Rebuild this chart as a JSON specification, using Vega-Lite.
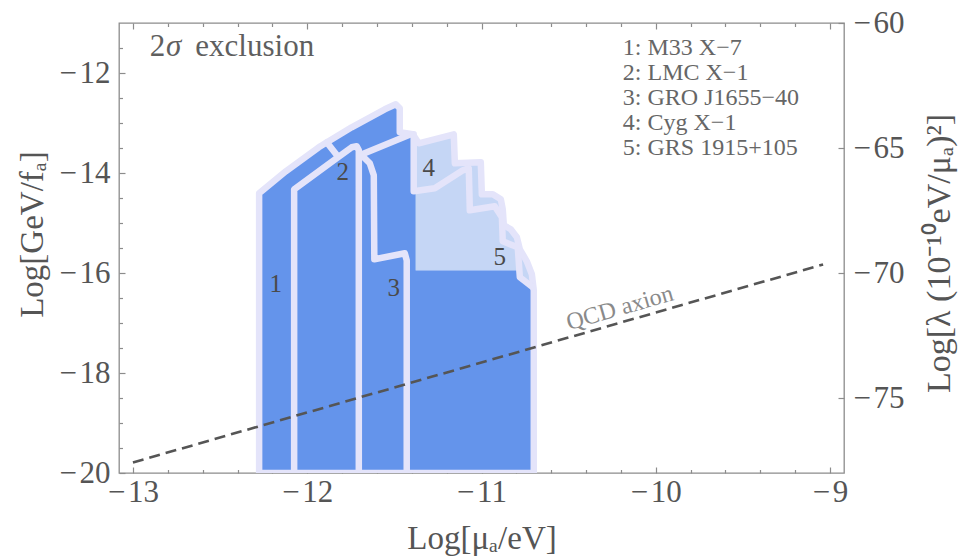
{
  "$schema": "https://vega.github.io/schema/vega-lite/v6.json",
  "width": 725,
  "height": 450,
  "autosize": {"type": "none"},
  "padding": {"left": 119, "top": 23, "right": 114, "bottom": 87},
  "background": "white",
  "config": {
    "view": {"stroke": "#8c8c8c", "strokeWidth": 1.3},
    "axis": {"domain": false, "grid": false, "labelFont": "Liberation Serif", "titleFont": "Liberation Serif", "labelColor": "#555555", "titleColor": "#555555", "titleFontWeight": "normal", "tickColor": "#8c8c8c", "tickWidth": 1.2, "labelFlush": false, "labelOverlap": false},
    "text": {"font": "Liberation Serif"}
  },
  "datasets": {
    "shapes": [
      {"s": "outer", "o": 0, "x": -12.276, "y": -20},
      {"s": "outer", "o": 1, "x": -12.276, "y": -14.406},
      {"s": "outer", "o": 2, "x": -12.123, "y": -13.966},
      {"s": "outer", "o": 3, "x": -11.934, "y": -13.486},
      {"s": "outer", "o": 4, "x": -11.745, "y": -13.086},
      {"s": "outer", "o": 5, "x": -11.555, "y": -12.726},
      {"s": "outer", "o": 6, "x": -11.492, "y": -12.626},
      {"s": "outer", "o": 7, "x": -11.469, "y": -12.706},
      {"s": "outer", "o": 8, "x": -11.469, "y": -13.186},
      {"s": "outer", "o": 9, "x": -11.394, "y": -13.226},
      {"s": "outer", "o": 10, "x": -11.360, "y": -13.406},
      {"s": "outer", "o": 11, "x": -11.159, "y": -13.226},
      {"s": "outer", "o": 12, "x": -11.153, "y": -13.806},
      {"s": "outer", "o": 13, "x": -11.004, "y": -13.786},
      {"s": "outer", "o": 14, "x": -10.998, "y": -14.426},
      {"s": "outer", "o": 15, "x": -10.935, "y": -14.426},
      {"s": "outer", "o": 16, "x": -10.889, "y": -14.526},
      {"s": "outer", "o": 17, "x": -10.878, "y": -14.726},
      {"s": "outer", "o": 18, "x": -10.872, "y": -15.046},
      {"s": "outer", "o": 19, "x": -10.832, "y": -15.126},
      {"s": "outer", "o": 20, "x": -10.797, "y": -15.286},
      {"s": "outer", "o": 21, "x": -10.780, "y": -15.526},
      {"s": "outer", "o": 22, "x": -10.740, "y": -15.766},
      {"s": "outer", "o": 23, "x": -10.711, "y": -16.026},
      {"s": "outer", "o": 24, "x": -10.700, "y": -16.346},
      {"s": "outer", "o": 25, "x": -10.700, "y": -20},
      {"s": "outer", "o": 26, "x": -12.276, "y": -20},
      {"s": "light", "o": 0, "x": -11.377, "y": -15.946},
      {"s": "light", "o": 1, "x": -11.377, "y": -13.246},
      {"s": "light", "o": 2, "x": -11.360, "y": -13.406},
      {"s": "light", "o": 3, "x": -11.159, "y": -13.226},
      {"s": "light", "o": 4, "x": -11.153, "y": -13.806},
      {"s": "light", "o": 5, "x": -11.004, "y": -13.786},
      {"s": "light", "o": 6, "x": -10.998, "y": -14.426},
      {"s": "light", "o": 7, "x": -10.935, "y": -14.426},
      {"s": "light", "o": 8, "x": -10.889, "y": -14.526},
      {"s": "light", "o": 9, "x": -10.878, "y": -14.726},
      {"s": "light", "o": 10, "x": -10.872, "y": -15.046},
      {"s": "light", "o": 11, "x": -10.832, "y": -15.126},
      {"s": "light", "o": 12, "x": -10.797, "y": -15.286},
      {"s": "light", "o": 13, "x": -10.780, "y": -15.526},
      {"s": "light", "o": 14, "x": -10.740, "y": -15.766},
      {"s": "light", "o": 15, "x": -10.711, "y": -16.026},
      {"s": "light", "o": 16, "x": -10.700, "y": -16.346},
      {"s": "light", "o": 17, "x": -10.780, "y": -16.086},
      {"s": "light", "o": 18, "x": -10.797, "y": -15.946},
      {"s": "light", "o": 19, "x": -11.377, "y": -15.946},
      {"s": "L1", "o": 0, "x": -12.075, "y": -20},
      {"s": "L1", "o": 1, "x": -12.075, "y": -14.326},
      {"s": "L1", "o": 2, "x": -11.848, "y": -13.746},
      {"s": "L1", "o": 3, "x": -11.745, "y": -13.486},
      {"s": "L1", "o": 4, "x": -11.716, "y": -13.466},
      {"s": "L1", "o": 5, "x": -11.704, "y": -13.546},
      {"s": "L1", "o": 6, "x": -11.704, "y": -20},
      {"s": "L2", "o": 0, "x": -11.888, "y": -13.386},
      {"s": "L2", "o": 1, "x": -11.825, "y": -13.666},
      {"s": "L3a", "o": 0, "x": -11.699, "y": -13.646},
      {"s": "L3a", "o": 1, "x": -11.406, "y": -13.226},
      {"s": "L3b", "o": 0, "x": -11.676, "y": -13.686},
      {"s": "L3b", "o": 1, "x": -11.641, "y": -13.806},
      {"s": "L3b", "o": 2, "x": -11.618, "y": -14.046},
      {"s": "L3b", "o": 3, "x": -11.615, "y": -15.726},
      {"s": "L3b", "o": 4, "x": -11.440, "y": -15.606},
      {"s": "L3b", "o": 5, "x": -11.429, "y": -15.746},
      {"s": "L3b", "o": 6, "x": -11.429, "y": -20},
      {"s": "L4", "o": 0, "x": -11.389, "y": -13.226},
      {"s": "L4", "o": 1, "x": -11.389, "y": -14.366},
      {"s": "L4", "o": 2, "x": -11.268, "y": -14.306},
      {"s": "L4", "o": 3, "x": -11.107, "y": -13.946},
      {"s": "L4", "o": 4, "x": -11.073, "y": -13.906},
      {"s": "L4", "o": 5, "x": -11.067, "y": -14.746},
      {"s": "L4", "o": 6, "x": -10.924, "y": -14.666},
      {"s": "L4", "o": 7, "x": -10.883, "y": -14.886},
      {"s": "L4", "o": 8, "x": -10.878, "y": -15.366},
      {"s": "L4", "o": 9, "x": -10.792, "y": -15.486},
      {"s": "L4", "o": 10, "x": -10.780, "y": -16.086},
      {"s": "L4", "o": 11, "x": -10.706, "y": -16.286}
    ],
    "qcd": [
      {"x": -13, "y": -19.79},
      {"x": -9.04, "y": -15.83}
    ],
    "texts": [
      {"k": "num", "t": "1", "x": -12.181, "y": -16.226},
      {"k": "num", "t": "2", "x": -11.796, "y": -13.986},
      {"k": "num", "t": "3", "x": -11.503, "y": -16.306},
      {"k": "num", "t": "4", "x": -11.303, "y": -13.906},
      {"k": "num", "t": "5", "x": -10.895, "y": -15.686},
      {"k": "leg", "t": "1: M33 X−7", "x": -10.189, "y": -11.506},
      {"k": "leg", "t": "2: LMC X−1", "x": -10.189, "y": -12.006},
      {"k": "leg", "t": "3: GRO J1655−40", "x": -10.189, "y": -12.506},
      {"k": "leg", "t": "4: Cyg X−1", "x": -10.189, "y": -13.006},
      {"k": "leg", "t": "5: GRS 1915+105", "x": -10.189, "y": -13.506},
      {"k": "head", "t": "2", "x": -12.904, "y": -11.486},
      {"k": "headi", "t": "σ", "x": -12.810, "y": -11.486},
      {"k": "head", "t": "exclusion", "x": -12.642, "y": -11.486},
      {"k": "qcd", "t": "QCD axion", "x": -10.206, "y": -16.706}
    ],
    "lam": [{"lam": -60}, {"lam": -78}]
  },
  "layer": [
    {
      "data": {"name": "shapes"},
      "transform": [{"filter": "datum.s === 'outer'"}],
      "mark": {"type": "line", "fill": "#6494EB", "stroke": "#6494EB", "strokeWidth": 0.5, "clip": true},
      "encoding": {
        "x": {"field": "x", "type": "quantitative", "scale": {"domain": [-13.08, -8.92], "nice": false, "zero": false},
          "axis": {"orient": "bottom", "values": [-13, -12, -11, -10, -9], "ticks": false, "labelFontSize": 31, "labelPadding": 4, "labelExpr": "'−\u200a' + abs(datum.value)", "title": "Log[μₐ/eV]", "titleFontSize": 33, "titleY": 75, "titleBaseline": "alphabetic"}},
        "y": {"field": "y", "type": "quantitative", "scale": {"domain": [-20, -11], "nice": false, "zero": false},
          "axis": {"orient": "left", "values": [-20, -18, -16, -14, -12], "ticks": false, "labelFontSize": 31, "labelPadding": 9, "labelExpr": "'−\u200a' + abs(datum.value)", "title": "Log[GeV/fₐ]", "titleFontSize": 33, "titleAngle": 270, "titleX": -77, "titleY": 211, "titleBaseline": "alphabetic", "titleAlign": "center"}},
        "order": {"field": "o", "type": "quantitative"}
      }
    },
    {
      "data": {"name": "shapes"},
      "transform": [{"filter": "datum.s === 'light'"}],
      "mark": {"type": "line", "fill": "#C5D6F5", "stroke": "#C5D6F5", "strokeWidth": 0.5, "clip": true},
      "encoding": {
        "x": {"field": "x", "type": "quantitative", "scale": {"domain": [-13.08, -8.92], "nice": false, "zero": false},
          "axis": {"orient": "bottom", "values": [-13, -12, -11, -10, -9], "labels": false, "tickSize": -6, "title": null}},
        "y": {"field": "y", "type": "quantitative", "scale": {"domain": [-20, -11], "nice": false, "zero": false},
          "axis": {"orient": "left", "values": [-20, -18, -16, -14, -12], "labels": false, "tickSize": -6, "title": null}},
        "order": {"field": "o", "type": "quantitative"}
      }
    },
    {
      "data": {"name": "shapes"},
      "transform": [{"filter": "datum.s !== 'light'"}],
      "mark": {"type": "line", "stroke": "#E4E4FA", "strokeWidth": 6.5, "strokeJoin": "round", "strokeCap": "round", "clip": true},
      "encoding": {
        "x": {"field": "x", "type": "quantitative", "scale": {"domain": [-13.08, -8.92], "nice": false, "zero": false},
          "axis": {"orient": "bottom", "values": [-12.8, -12.6, -12.4, -12.2, -11.8, -11.6, -11.4, -11.2, -10.8, -10.6, -10.4, -10.2, -9.8, -9.6, -9.4, -9.2], "labels": false, "tickSize": -3.5, "title": null}},
        "y": {"field": "y", "type": "quantitative", "scale": {"domain": [-20, -11], "nice": false, "zero": false},
          "axis": {"orient": "left", "values": [-19.5, -19, -18.5, -17.5, -17, -16.5, -15.5, -15, -14.5, -13.5, -13, -12.5, -11.5], "labels": false, "tickSize": -3.5, "title": null}},
        "detail": {"field": "s"},
        "order": {"field": "o", "type": "quantitative"}
      }
    },
    {
      "data": {"name": "qcd"},
      "mark": {"type": "line", "stroke": "#555555", "strokeWidth": 2.6, "strokeDash": [11, 6], "clip": true},
      "encoding": {
        "x": {"field": "x", "type": "quantitative", "scale": {"domain": [-13.08, -8.92], "nice": false, "zero": false},
          "axis": {"orient": "top", "values": [-13, -12, -11, -10, -9], "labels": false, "tickSize": -6, "title": null}},
        "y": {"field": "y", "type": "quantitative", "scale": {"domain": [-20, -11], "nice": false, "zero": false}, "axis": null}
      }
    },
    {
      "data": {"name": "texts"},
      "transform": [{"filter": "datum.k === 'num'"}],
      "mark": {"type": "text", "fontSize": 25, "color": "#4a4a4a", "align": "center", "baseline": "middle"},
      "encoding": {
        "x": {"field": "x", "type": "quantitative", "scale": {"domain": [-13.08, -8.92], "nice": false, "zero": false},
          "axis": {"orient": "top", "values": [-12.8, -12.6, -12.4, -12.2, -11.8, -11.6, -11.4, -11.2, -10.8, -10.6, -10.4, -10.2, -9.8, -9.6, -9.4, -9.2], "labels": false, "tickSize": -3.5, "title": null}},
        "y": {"field": "y", "type": "quantitative", "scale": {"domain": [-20, -11], "nice": false, "zero": false}, "axis": null},
        "text": {"field": "t"}
      }
    },
    {
      "data": {"name": "texts"},
      "transform": [{"filter": "datum.k === 'leg'"}],
      "mark": {"type": "text", "fontSize": 24, "color": "#666666", "align": "left", "baseline": "middle"},
      "encoding": {
        "x": {"field": "x", "type": "quantitative", "scale": {"domain": [-13.08, -8.92], "nice": false, "zero": false}, "axis": null},
        "y": {"field": "y", "type": "quantitative", "scale": {"domain": [-20, -11], "nice": false, "zero": false}, "axis": null},
        "text": {"field": "t"}
      }
    },
    {
      "data": {"name": "texts"},
      "transform": [{"filter": "datum.k === 'head'"}],
      "mark": {"type": "text", "fontSize": 31, "color": "#5f5f5f", "align": "left", "baseline": "middle"},
      "encoding": {
        "x": {"field": "x", "type": "quantitative", "scale": {"domain": [-13.08, -8.92], "nice": false, "zero": false}, "axis": null},
        "y": {"field": "y", "type": "quantitative", "scale": {"domain": [-20, -11], "nice": false, "zero": false}, "axis": null},
        "text": {"field": "t"}
      }
    },
    {
      "data": {"name": "texts"},
      "transform": [{"filter": "datum.k === 'headi'"}],
      "mark": {"type": "text", "fontSize": 31, "fontStyle": "italic", "color": "#5f5f5f", "align": "left", "baseline": "middle"},
      "encoding": {
        "x": {"field": "x", "type": "quantitative", "scale": {"domain": [-13.08, -8.92], "nice": false, "zero": false}, "axis": null},
        "y": {"field": "y", "type": "quantitative", "scale": {"domain": [-20, -11], "nice": false, "zero": false}, "axis": null},
        "text": {"field": "t"}
      }
    },
    {
      "data": {"name": "texts"},
      "transform": [{"filter": "datum.k === 'qcd'"}],
      "mark": {"type": "text", "fontSize": 24, "color": "#8a8a8a", "align": "center", "baseline": "middle", "angle": -16},
      "encoding": {
        "x": {"field": "x", "type": "quantitative", "scale": {"domain": [-13.08, -8.92], "nice": false, "zero": false}, "axis": null},
        "y": {"field": "y", "type": "quantitative", "scale": {"domain": [-20, -11], "nice": false, "zero": false}, "axis": null},
        "text": {"field": "t"}
      }
    },
    {
      "data": {"name": "lam"},
      "mark": {"type": "point", "opacity": 0},
      "encoding": {
        "y": {"field": "lam", "type": "quantitative", "scale": {"domain": [-78, -60], "nice": false, "zero": false},
          "axis": {"orient": "right", "values": [-60, -65, -70, -75], "ticks": false, "labelFontSize": 31, "labelPadding": 9, "labelExpr": "'−\u200a' + abs(datum.value)", "title": "Log[λ (10⁻¹⁰eV/μₐ)²]", "titleFontSize": 34, "titleAngle": 270, "titleX": 105, "titleY": 230, "titleBaseline": "alphabetic", "titleAlign": "center"}}
      }
    },
    {
      "data": {"name": "lam"},
      "mark": {"type": "point", "opacity": 0},
      "encoding": {
        "y": {"field": "lam", "type": "quantitative", "scale": {"domain": [-78, -60], "nice": false, "zero": false},
          "axis": {"orient": "right", "values": [-60, -65, -70, -75], "labels": false, "tickSize": -6, "title": null}}
      }
    }
  ],
  "resolve": {"scale": {"y": "independent"}, "axis": {"x": "independent", "y": "independent"}}
}
